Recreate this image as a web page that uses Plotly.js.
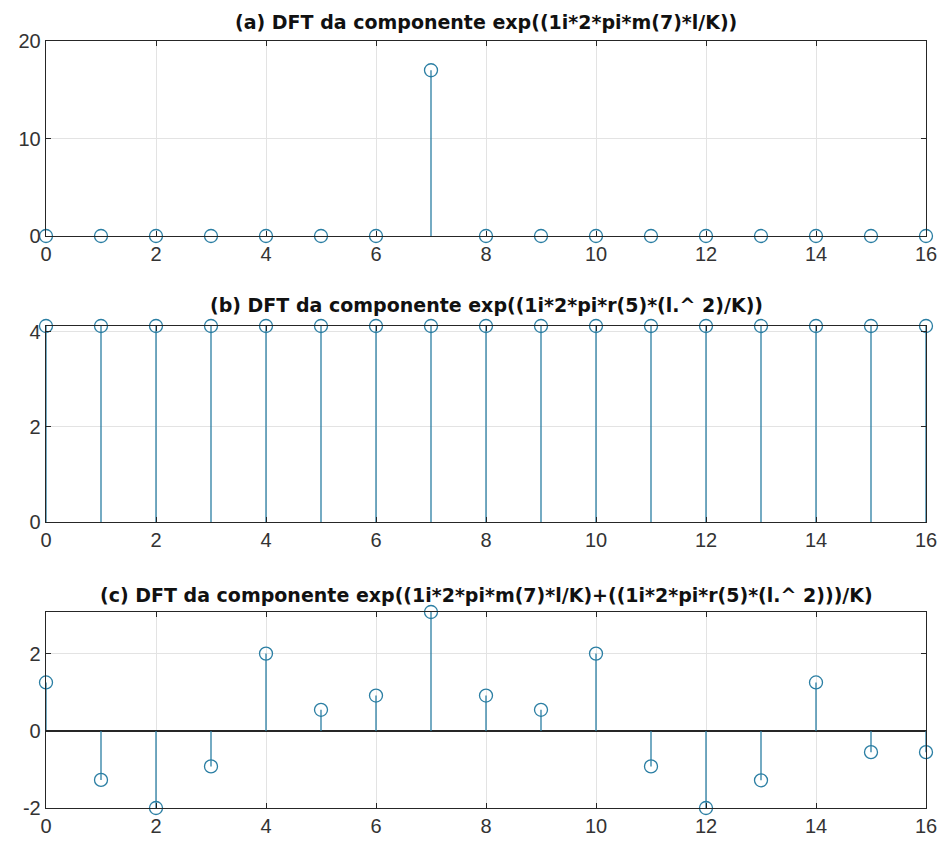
<!DOCTYPE html>
<html>
<head>
<meta charset="utf-8">
<script src="https://cdn.plot.ly/plotly-3.0.1.min.js"></script>
<style>html,body{margin:0;padding:0;background:#fff;}#chart{width:941px;height:845px;}</style>
</head>
<body>
<div id="chart"></div>
<script>
// ---- data ----
const k = [0,1,2,3,4,5,6,7,8,9,10,11,12,13,14,15,16];
const dftA = [0,0,0,0,0,0,0,17,0,0,0,0,0,0,0,0,0];
const dftB = [4.123,4.123,4.123,4.123,4.123,4.123,4.123,4.123,4.123,4.123,4.123,4.123,4.123,4.123,4.123,4.123,4.123];
const dftC = [1.26,-1.27,-2.0,-0.92,2.01,0.55,0.92,3.09,0.92,0.55,2.01,-0.92,-2.0,-1.28,1.26,-0.55,-0.55];
const titles = [
  "(a) DFT da componente exp((1i*2*pi*m(7)*l/K))",
  "(b) DFT da componente exp((1i*2*pi*r(5)*(l.^ 2)/K))",
  "(c) DFT da componente exp((1i*2*pi*m(7)*l/K)+((1i*2*pi*r(5)*(l.^ 2)))/K)"
];
const xTicks = [0,2,4,6,8,10,12,14,16];
const yTicksA = [0,10,20];
const yTicksB = [0,2,4];
const yTicksC = [-2,0,2];
const yTickTextC = ["-2","0","2"];

// ---- style ----
const W = 941, H = 845;
const stemColor = "#2a7ea3";
const axisColor = "#262626";
const gridColor = "#e3e3e3";
const tickFont = {family: "Liberation Sans, Arial, sans-serif", size: 20, color: "#333"};
const titleFont = {family: "DejaVu Sans, sans-serif", size: 19, color: "#111"};
const xL = 46, xR = 926;
const panels = [
  {top: 41, bottom: 236, data: dftA, range: [0, 20], ticks: yTicksA, text: null, titleY: 22},
  {top: 326, bottom: 522, data: dftB, range: [0, 4.123], ticks: yTicksB, text: null, titleY: 305},
  {top: 612, bottom: 808, data: dftC, range: [-2.0, 3.09], ticks: yTicksC, text: yTickTextC, titleY: 595}
];

const traces = [];
const layout = {
  width: W, height: H,
  margin: {l: 0, r: 0, t: 0, b: 0},
  paper_bgcolor: "#fff", plot_bgcolor: "#fff",
  showlegend: false,
  font: tickFont,
  annotations: [], shapes: []
};

panels.forEach((p, i) => {
  const n = i + 1;
  const xa = "x" + (n === 1 ? "" : n), ya = "y" + (n === 1 ? "" : n);
  const xs = [], ys = [];
  k.forEach((kk, j) => { xs.push(kk, kk, null); ys.push(0, p.data[j], null); });
  traces.push({x: xs, y: ys, xaxis: xa, yaxis: ya, mode: "lines", type: "scatter",
    line: {color: stemColor, width: 1.3}, hoverinfo: "skip", cliponaxis: false});
  traces.push({x: k, y: p.data, xaxis: xa, yaxis: ya, mode: "markers", type: "scatter",
    marker: {symbol: "circle-open", size: 13, color: stemColor, line: {width: 1.3, color: stemColor}},
    cliponaxis: false});
  const axX = {
    domain: [xL / W, xR / W], range: [0, 16], anchor: ya,
    tickvals: xTicks, ticks: "inside", ticklen: 5, tickcolor: axisColor,
    showline: true, mirror: "ticks", linecolor: axisColor, linewidth: 1.3,
    showgrid: true, gridcolor: gridColor, gridwidth: 1, zeroline: false,
    tickfont: tickFont, fixedrange: true
  };
  const axY = {
    domain: [1 - p.bottom / H, 1 - p.top / H], range: p.range, anchor: xa,
    tickvals: p.ticks, ticks: "inside", ticklen: 5, tickcolor: axisColor,
    showline: true, mirror: "ticks", linecolor: axisColor, linewidth: 1.3,
    showgrid: true, gridcolor: gridColor, gridwidth: 1,
    zeroline: true, zerolinecolor: axisColor, zerolinewidth: 1.3,
    tickfont: tickFont, fixedrange: true
  };
  if (p.text) axY.ticktext = p.text;
  layout["xaxis" + (n === 1 ? "" : n)] = axX;
  layout["yaxis" + (n === 1 ? "" : n)] = axY;
  layout.annotations.push({
    text: "<b>" + titles[i] + "</b>", xref: "paper", yref: "paper",
    x: (xL + xR) / 2 / W, y: 1 - p.titleY / H, xanchor: "center", yanchor: "middle",
    showarrow: false, font: titleFont
  });
});

Plotly.newPlot("chart", traces, layout, {displayModeBar: false, staticPlot: true});
</script>
</body>
</html>
